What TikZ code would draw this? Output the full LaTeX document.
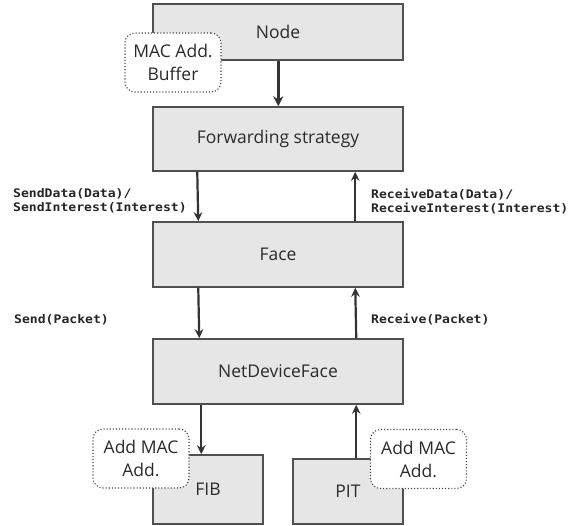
\documentclass[tikz,border=0pt]{standalone}
\usepackage{fontspec}
\setmainfont{Open Sans}
\newfontfamily\codefont[FakeStretch=1.11]{DejaVu Sans Mono}
\usetikzlibrary{arrows.meta}
\definecolor{boxfill}{HTML}{E6E6E6}
\definecolor{boxline}{HTML}{505050}
\definecolor{dotline}{HTML}{444444}
\definecolor{arrowc}{HTML}{333333}
\definecolor{labelc}{HTML}{262626}
\definecolor{textc}{HTML}{2A2A2A}
\tikzset{
  box/.style={draw=boxline, fill=boxfill, line width=1.5pt, inner sep=0pt,
    font=\fontsize{17.5}{20}\selectfont, text=textc},
  bubble/.style={draw=dotline, dotted, fill=white, rounded corners=10pt, line width=1.1pt,
    minimum width=96pt, minimum height=59pt, inner sep=0pt, align=center,
    font=\fontsize{17.5}{23}\selectfont, text=textc},
  arr/.style={draw=arrowc, line width=2.2pt, -{Stealth[length=9pt,width=8.5pt]}},
  bigarr/.style={draw=arrowc, line width=3pt, -{Stealth[length=10pt,width=10pt]}},
  lbl/.style={font=\codefont\bfseries\fontsize{11.8}{14}\selectfont, text=labelc,
    align=left, inner sep=0pt, anchor=west},
}
\begin{document}
\begin{tikzpicture}[x=1pt,y=-1pt]
\useasboundingbox (0,0) rectangle (585,526);
% boxes
\node[box, minimum width=250pt, minimum height=56pt] (node) at (278,32) {Node};
\node[box, minimum width=250pt, minimum height=64pt] (fwd) at (278,139) {Forwarding strategy};
\node[box, minimum width=250pt, minimum height=65pt] (face) at (278,254.5) {Face};
\node[box, minimum width=250pt, minimum height=65pt] (ndf) at (278,371.5) {NetDeviceFace};
\node[box, minimum width=110pt, minimum height=69pt] (fib) at (208,489.5) {FIB};
\node[box, minimum width=110pt, minimum height=65pt] (pit) at (348,491.5) {PIT};
% bubbles
\node[bubble] (buf) at (173,62.5) {MAC Add.\\Buffer};
\node[bubble] (addl) at (141,458.5) {Add MAC\\Add.};
\node[bubble] (addr) at (418.5,459) {Add MAC\\Add.};
% arrows
\draw[bigarr] ([xshift=126pt]node.south west) -- ([xshift=126pt]fwd.north west);
\draw[arr] ([xshift=45pt]fwd.south west) -- ([xshift=46pt]face.north west);
\draw[arr] ([xshift=203pt]face.north west) -- ([xshift=203pt]fwd.south west);
\draw[arr] ([xshift=46pt]face.south west) -- ([xshift=47pt]ndf.north west);
\draw[arr] ([xshift=204pt]ndf.north west) -- ([xshift=203pt]face.south west);
\draw[arr] ([xshift=49pt]ndf.south west) -- ([xshift=49pt]fib.north west);
\draw[arr] ([xshift=64pt]pit.north west) -- ([xshift=204pt]ndf.south west);
% labels
\node[lbl] (l1) at (13,201) {SendData(Data)/\\SendInterest(Interest)};
\node[lbl] (l2) at (371,201) {ReceiveData(Data)/\\ReceiveInterest(Interest)};
\node[lbl] (l3) at (14,320) {Send(Packet)};
\node[lbl] (l4) at (371,319) {Receive(Packet)};
\end{tikzpicture}
\end{document}
